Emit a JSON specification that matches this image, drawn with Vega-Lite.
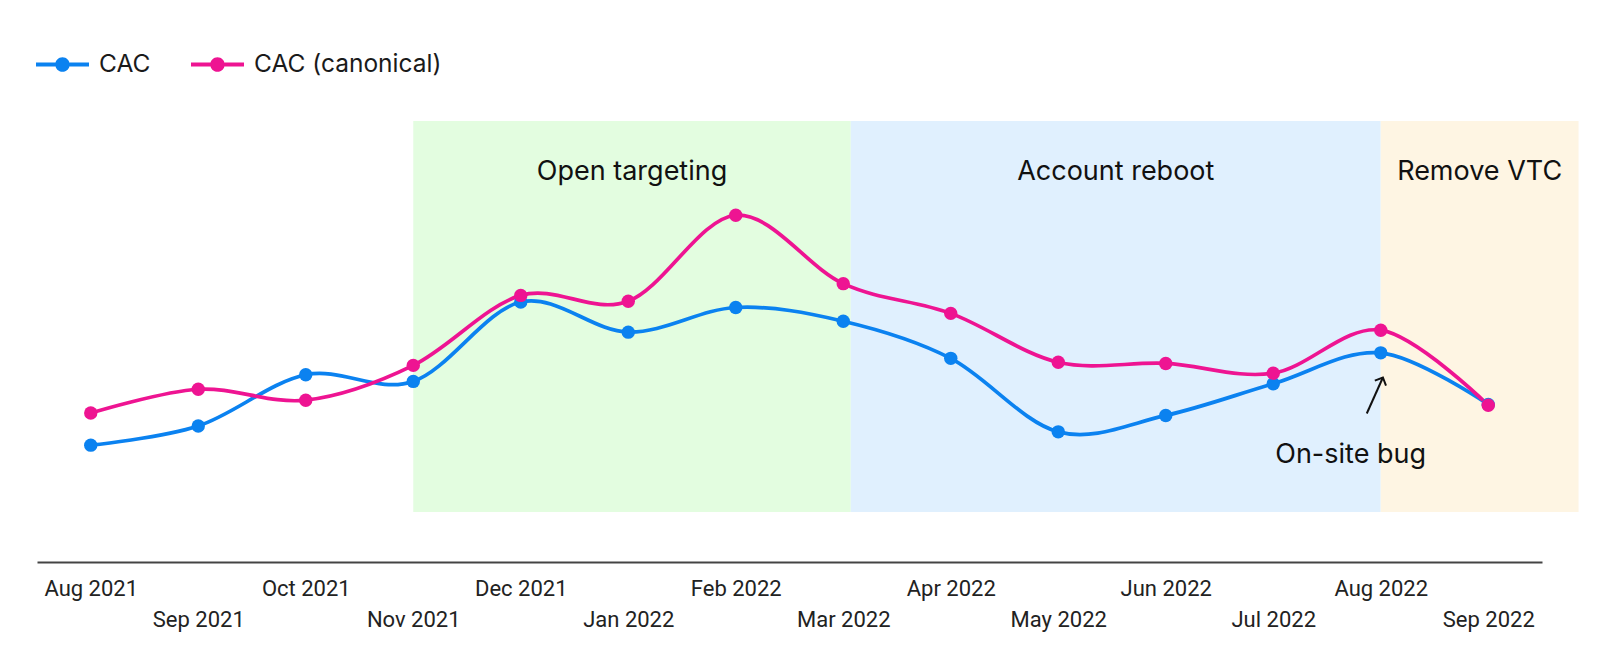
{
  "$schema": "https://vega.github.io/schema/vega-lite/v6.json",
  "autosize": {"type": "none"},
  "width": 1505,
  "height": 391,
  "padding": {"left": 37, "top": 121, "right": 58, "bottom": 150},
  "background": "white",
  "config": {
    "view": {"stroke": null}
  },
  "datasets": {
    "cac": [
      {"month": "Aug 2021", "month_index": 0, "series": "CAC", "value": 17.1},
      {"month": "Sep 2021", "month_index": 1, "series": "CAC", "value": 22.0},
      {"month": "Oct 2021", "month_index": 2, "series": "CAC", "value": 35.1},
      {"month": "Nov 2021", "month_index": 3, "series": "CAC", "value": 33.4},
      {"month": "Dec 2021", "month_index": 4, "series": "CAC", "value": 53.7},
      {"month": "Jan 2022", "month_index": 5, "series": "CAC", "value": 46.0},
      {"month": "Feb 2022", "month_index": 6, "series": "CAC", "value": 52.3},
      {"month": "Mar 2022", "month_index": 7, "series": "CAC", "value": 48.8},
      {"month": "Apr 2022", "month_index": 8, "series": "CAC", "value": 39.3},
      {"month": "May 2022", "month_index": 9, "series": "CAC", "value": 20.5},
      {"month": "Jun 2022", "month_index": 10, "series": "CAC", "value": 24.7},
      {"month": "Jul 2022", "month_index": 11, "series": "CAC", "value": 32.8},
      {"month": "Aug 2022", "month_index": 12, "series": "CAC", "value": 40.7},
      {"month": "Sep 2022", "month_index": 13, "series": "CAC", "value": 27.5},
      {"month": "Aug 2021", "month_index": 0, "series": "CAC (canonical)", "value": 25.3},
      {"month": "Sep 2021", "month_index": 1, "series": "CAC (canonical)", "value": 31.4},
      {"month": "Oct 2021", "month_index": 2, "series": "CAC (canonical)", "value": 28.6},
      {"month": "Nov 2021", "month_index": 3, "series": "CAC (canonical)", "value": 37.5},
      {"month": "Dec 2021", "month_index": 4, "series": "CAC (canonical)", "value": 55.4},
      {"month": "Jan 2022", "month_index": 5, "series": "CAC (canonical)", "value": 53.9},
      {"month": "Feb 2022", "month_index": 6, "series": "CAC (canonical)", "value": 75.9},
      {"month": "Mar 2022", "month_index": 7, "series": "CAC (canonical)", "value": 58.4},
      {"month": "Apr 2022", "month_index": 8, "series": "CAC (canonical)", "value": 50.8},
      {"month": "May 2022", "month_index": 9, "series": "CAC (canonical)", "value": 38.3},
      {"month": "Jun 2022", "month_index": 10, "series": "CAC (canonical)", "value": 38.0},
      {"month": "Jul 2022", "month_index": 11, "series": "CAC (canonical)", "value": 35.5},
      {"month": "Aug 2022", "month_index": 12, "series": "CAC (canonical)", "value": 46.5},
      {"month": "Sep 2022", "month_index": 13, "series": "CAC (canonical)", "value": 27.3}
    ],
    "phases": [
      {"phase": "Open targeting", "start": 3, "end": 7.07},
      {"phase": "Account reboot", "start": 7.07, "end": 12},
      {"phase": "Remove VTC", "start": 12, "end": 13.84}
    ],
    "notes": [
      {"note": "On-site bug", "x": 11.72, "y": 12.5}
    ],
    "arrows": [
      {"x": 11.87, "y": 25.2, "x2": 12.02, "y2": 34.4}
    ]
  },
  "layer": [
    {
      "data": {"name": "phases"},
      "mark": {"type": "rect"},
      "encoding": {
        "x": {
          "field": "start", "type": "quantitative",
          "scale": {"domain": [-0.5, 13.5], "nice": false, "zero": false},
          "axis": {
            "title": null,
            "offset": 50,
            "grid": false,
            "ticks": false,
            "tickSize": 0,
            "domainColor": "#444444",
            "domainWidth": 2,
            "labelFont": "Roboto",
            "labelFontSize": 22,
            "labelColor": "#222222",
            "labelPadding": 16.6,
            "labelOverlap": false,
            "labelBound": false,
            "labelFlush": false,
            "labelBaseline": "top",
            "labelLineHeight": 30.6,
            "values": [0, 1, 2, 3, 4, 5, 6, 7, 8, 9, 10, 11, 12, 13],
            "labelExpr": "datum.value % 2 === 1 ? ['', ['Aug 2021','Sep 2021','Oct 2021','Nov 2021','Dec 2021','Jan 2022','Feb 2022','Mar 2022','Apr 2022','May 2022','Jun 2022','Jul 2022','Aug 2022','Sep 2022'][datum.value]] : ['Aug 2021','Sep 2021','Oct 2021','Nov 2021','Dec 2021','Jan 2022','Feb 2022','Mar 2022','Apr 2022','May 2022','Jun 2022','Jul 2022','Aug 2022','Sep 2022'][datum.value]"
          }
        },
        "x2": {"field": "end"},
        "y": {"datum": 0, "type": "quantitative", "scale": {"domain": [0, 100], "nice": false, "zero": false}, "axis": null},
        "y2": {"datum": 100},
        "fill": {"field": "phase", "type": "nominal", "scale": {"domain": ["Open targeting", "Account reboot", "Remove VTC"], "range": ["#e3fde0", "#e0f0fe", "#fef5e3"]}, "legend": null}
      }
    },
    {
      "data": {"name": "phases"},
      "transform": [{"calculate": "(datum.start + datum.end) / 2", "as": "mid"}],
      "mark": {"type": "text", "font": "Inter", "fontSize": 27, "color": "#111111", "align": "center", "baseline": "alphabetic"},
      "encoding": {
        "x": {"field": "mid", "type": "quantitative", "axis": {"title": null}},
        "y": {"datum": 85, "type": "quantitative", "axis": null},
        "text": {"field": "phase"}
      }
    },
    {
      "data": {"name": "cac"},
      "mark": {"type": "line", "interpolate": "cardinal", "strokeWidth": 3.7},
      "encoding": {
        "x": {"field": "month_index", "type": "quantitative", "axis": {"title": null}},
        "y": {"field": "value", "type": "quantitative", "axis": null},
        "color": {
          "field": "series", "type": "nominal",
          "scale": {"domain": ["CAC", "CAC (canonical)"], "range": ["#0b82f0", "#ee1492"]},
          "legend": {
            "title": null,
            "orient": "none",
            "legendX": -1,
            "legendY": -83,
            "direction": "horizontal",
            "padding": 0,
            "symbolType": "M-1,-0.075 L-0.27,-0.075 L-0.27,0.075 L-1,0.075 Z M0.27,-0.075 L1,-0.075 L1,0.075 L0.27,0.075 Z M0.275,0 A0.275,0.275 0 1,1 -0.275,0 A0.275,0.275 0 1,1 0.275,0 Z",
            "symbolSize": 2809,
            "symbolStrokeWidth": 0,
            "symbolOpacity": 1,
            "labelFont": "Inter",
            "labelFontSize": 24.5,
            "labelColor": "#1a1a1a",
            "labelOffset": 10,
            "labelLimit": 0,
            "columnPadding": 40,
            "encode": {"symbols": {"update": {"fill": {"scale": "color", "field": "value"}, "stroke": {"value": "transparent"}, "strokeWidth": {"value": 0}}}}
          }
        }
      }
    },
    {
      "data": {"name": "cac"},
      "mark": {"type": "point", "filled": true, "size": 180, "opacity": 1},
      "encoding": {
        "x": {"field": "month_index", "type": "quantitative", "axis": {"title": null}},
        "y": {"field": "value", "type": "quantitative", "axis": null},
        "color": {"field": "series", "type": "nominal"}
      }
    },
    {
      "data": {"name": "arrows"},
      "mark": {"type": "rule", "color": "#111111", "strokeWidth": 2},
      "encoding": {
        "x": {"field": "x", "type": "quantitative", "axis": {"title": null}},
        "x2": {"field": "x2"},
        "y": {"field": "y", "type": "quantitative", "axis": null},
        "y2": {"field": "y2"}
      }
    },
    {
      "data": {"name": "arrows"},
      "mark": {"type": "point", "shape": "M-1,1 L0,0 L1,1", "angle": 24, "size": 150, "filled": false, "stroke": "#111111", "strokeWidth": 2, "opacity": 1},
      "encoding": {
        "x": {"field": "x2", "type": "quantitative", "axis": {"title": null}},
        "y": {"field": "y2", "type": "quantitative", "axis": null}
      }
    },
    {
      "data": {"name": "notes"},
      "mark": {"type": "text", "font": "Inter", "fontSize": 27, "color": "#111111", "align": "center", "baseline": "alphabetic"},
      "encoding": {
        "x": {"field": "x", "type": "quantitative", "axis": {"title": null}},
        "y": {"field": "y", "type": "quantitative", "axis": null},
        "text": {"field": "note"}
      }
    }
  ]
}
